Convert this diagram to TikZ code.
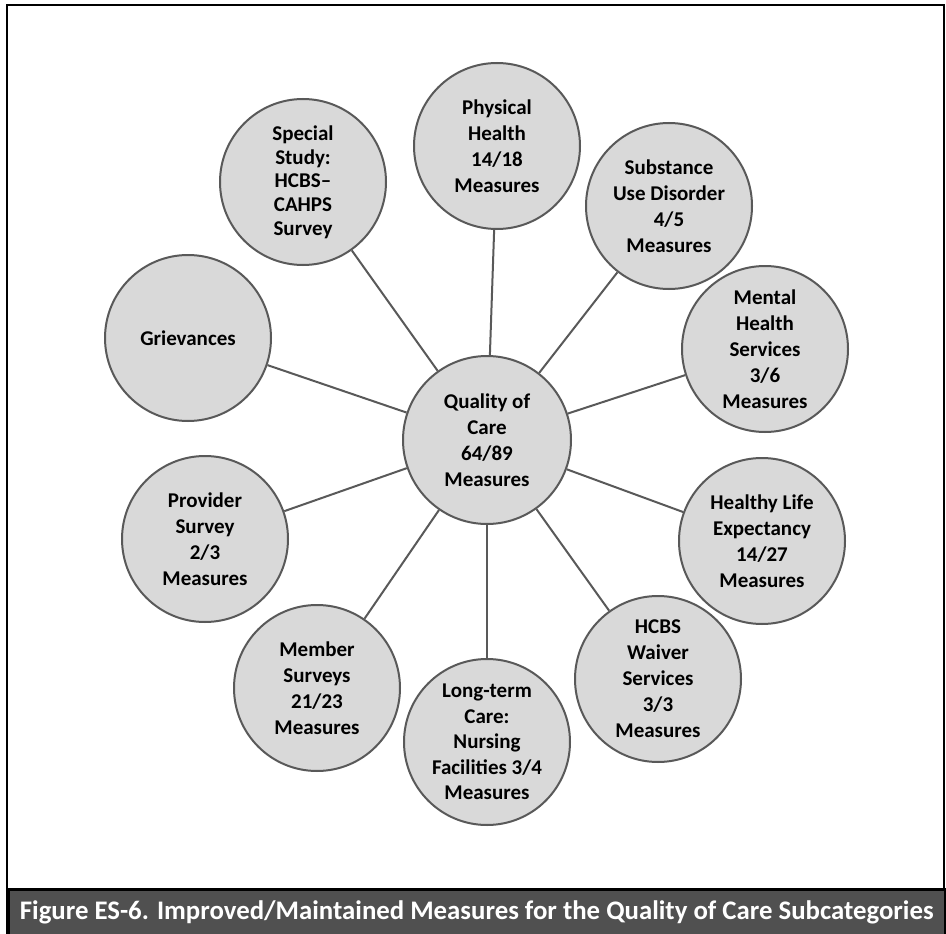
\documentclass[tikz,border=0pt]{standalone}
\usepackage{fontspec}
\setmainfont{Carlito}
\usepackage{xcolor}
\usepackage{tikz}
\usetikzlibrary{positioning, shapes, calc}
\definecolor{circfill}{RGB}{217,217,217}
\definecolor{circedge}{RGB}{89,89,89}
\definecolor{capbar}{RGB}{80,80,80}

\begin{document}
\begin{tikzpicture}[x=1pt, y=-1pt]
		\tikzstyle{subc}=[circle, draw=circedge, line width=2pt, fill=circfill, minimum size=166pt, inner sep=0pt, align=center, font=\bfseries\fontsize{21}{26}\selectfont]
		\tikzstyle{mainc}=[subc, minimum size=168pt]
		\tikzstyle{spoke}=[draw=circedge, line width=2pt]
		
		\useasboundingbox (0,0) rectangle (946,934);
		\draw[line width=2.5pt] (7,934) -- (7,5) -- (944,5) -- (944,934);
		\node[fill=capbar, draw=black, line width=2.5pt, minimum width=937pt, minimum height=48pt, anchor=north west, inner sep=0pt](cap) at (7,888) {};
		\node[text=white, font=\bfseries\fontsize{26.8}{30}\selectfont](captext) at ($(cap.center)+(0,-1)$) {Figure ES-6. Improved/Maintained Measures for the Quality of Care Subcategories};
		
		\node(Q) at (487,440)[mainc] {Quality of\\Care\\64/89\\Measures};
		\node(PH) at (497,146)[subc] {Physical\\Health\\14/18\\Measures};
		\node(SU) at (669,206)[subc] {Substance\\Use Disorder\\4/5\\Measures};
		\node(MH) at (765,349)[subc] {Mental\\Health\\Services\\3/6\\Measures};
		\node(HL) at (762,541)[subc] {Healthy Life\\Expectancy\\14/27\\Measures};
		\node(HW) at (658,679)[subc] {HCBS\\Waiver\\Services\\3/3\\Measures};
		\node(LT) at (487,742)[subc, font=\bfseries\fontsize{21}{25.5}\selectfont] {Long-term\\Care:\\Nursing\\Facilities 3/4\\Measures};
		\node(MS) at (317,688)[subc] {Member\\Surveys\\21/23\\Measures};
		\node(PS) at (205,539)[subc] {Provider\\Survey\\2/3\\Measures};
		\node(GR) at (188,338)[subc] {Grievances};
		\node(SS) at (303,182)[subc, font=\bfseries\fontsize{21}{23.7}\selectfont] {Special\\Study:\\HCBS--\\CAHPS\\Survey};
		
		\draw[spoke] (Q)--(PH);
		\draw[spoke] (Q)--(SU);
		\draw[spoke] (Q)--(MH);
		\draw[spoke] (Q)--(HL);
		\draw[spoke] (Q)--(HW);
		\draw[spoke] (Q)--(LT);
		\draw[spoke] (Q)--(MS);
		\draw[spoke] (Q)--(PS);
		\draw[spoke] (Q)--(GR);
		\draw[spoke] (Q)--(SS);
\end{tikzpicture}
\end{document}
